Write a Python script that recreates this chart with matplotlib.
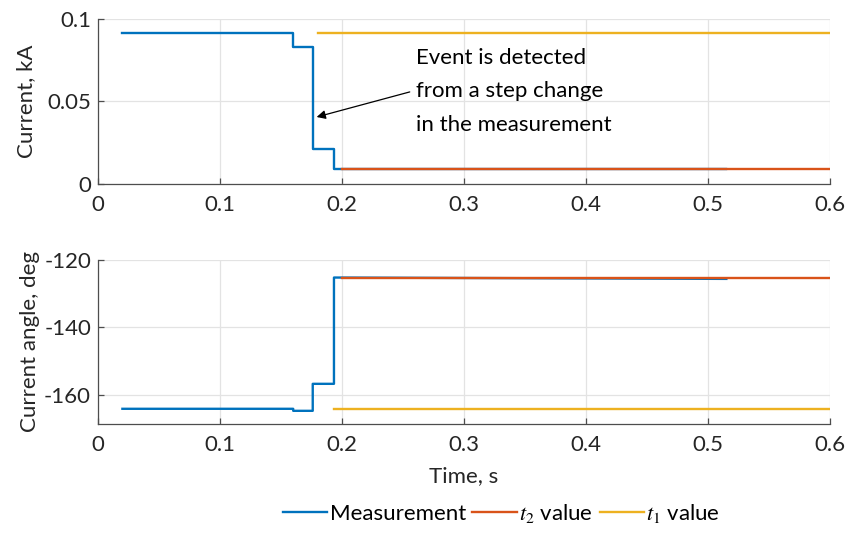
import matplotlib
matplotlib.use("Agg")
import matplotlib.pyplot as plt

plt.rcParams['font.family'] = ['Lato', 'DejaVu Sans']
plt.rcParams['mathtext.fontset'] = 'stix'
plt.rcParams['axes.unicode_minus'] = False

# Measurement (step-wise) for current magnitude, kA
meas_t = [0.02, 0.16, 0.16, 0.176, 0.176, 0.1934, 0.1934, 0.515]
meas_i = [0.0915, 0.0915, 0.0832, 0.0832, 0.0212, 0.0212, 0.0091, 0.0091]
# t2 value (after event) and t1 value (before event) for current magnitude
t2_t = [0.2, 0.6]
t2_i = [0.0091, 0.0091]
t1_t_top = [0.18, 0.6]
t1_i = [0.0915, 0.0915]

# Measurement for current angle, deg
meas_a = [-164.1, -164.1, -164.7, -164.7, -156.7, -156.7, -125.2, -125.6]
t2_a = [-125.2, -125.2]
t1_t_bot = [0.1934, 0.6]
t1_a = [-164.1, -164.1]

xticks = [0, 0.1, 0.2, 0.3, 0.4, 0.5, 0.6]
xticklabels = ['0', '0.1', '0.2', '0.3', '0.4', '0.5', '0.6']
top_yticks = [0, 0.05, 0.1]
top_yticklabels = ['0', '0.05', '0.1']
bot_yticks = [-160, -140, -120]

c_meas = '#0072BD'
c_t2 = '#D95319'
c_t1 = '#EDB120'
lw = 1.7
fs = 16

fig = plt.figure(figsize=(8.47, 5.47), dpi=100)
ax1 = fig.add_axes([0.1157, 0.6636, 0.8643, 0.3017])
ax2 = fig.add_axes([0.1157, 0.2249, 0.8643, 0.2998])

ax1.plot(meas_t, meas_i, color=c_meas, lw=lw, label='Measurement', zorder=3)
ax1.plot(t2_t, t2_i, color=c_t2, lw=lw, label='$t_2$ value', zorder=4)
ax1.plot(t1_t_top, t1_i, color=c_t1, lw=lw, label='$t_1$ value', zorder=4)

ax2.plot(meas_t, meas_a, color=c_meas, lw=lw, zorder=3)
ax2.plot(t2_t, t2_a, color=c_t2, lw=lw, zorder=4)
ax2.plot(t1_t_bot, t1_a, color=c_t1, lw=lw, zorder=4)

ax1.set_ylim(0, 0.1)
ax1.set_yticks(top_yticks)
ax1.set_yticklabels(top_yticklabels)
ax2.set_ylim(-168.6, -120)
ax2.set_yticks(bot_yticks)

for ax in (ax1, ax2):
    ax.set_xlim(0, 0.6)
    ax.set_xticks(xticks)
    ax.set_xticklabels(xticklabels)
    ax.grid(True, color='#e3e3e3', lw=0.9)
    ax.set_axisbelow(True)
    for s in ('top', 'right'):
        ax.spines[s].set_visible(False)
    for s in ('left', 'bottom'):
        ax.spines[s].set_color('#4d4d4d')
        ax.spines[s].set_linewidth(0.9)
    ax.tick_params(direction='in', length=4, width=0.9, color='#4d4d4d',
                   labelsize=fs, labelcolor='#262626')
    ax.tick_params(axis='x', pad=8)
    ax.tick_params(axis='y', pad=5)

ax1.set_ylabel('Current, kA', fontsize=fs, color='#262626', labelpad=8)
ax2.set_ylabel('Current angle, deg', fontsize=fs, color='#262626', labelpad=3)
ax2.set_xlabel('Time, s', fontsize=fs, color='#262626', labelpad=8)

ax1.annotate('', xy=(0.1792, 0.0406), xytext=(0.2555, 0.0558),
             arrowprops=dict(arrowstyle='-|>', color='black', lw=0.9,
                             mutation_scale=13, shrinkA=0, shrinkB=0))
ax1.text(0.261, 0.0825, 'Event is detected\nfrom a step change\nin the measurement',
         fontsize=fs, color='black', va='top', ha='left', linespacing=1.85)

h, l = ax1.get_legend_handles_labels()
fig.legend(h, l, loc='center', bbox_to_anchor=(0.592, 0.062), ncol=3,
           frameon=False, fontsize=fs, handlelength=2.0, handletextpad=0.1,
           columnspacing=0.3)

fig.savefig('out.png', dpi=100)
